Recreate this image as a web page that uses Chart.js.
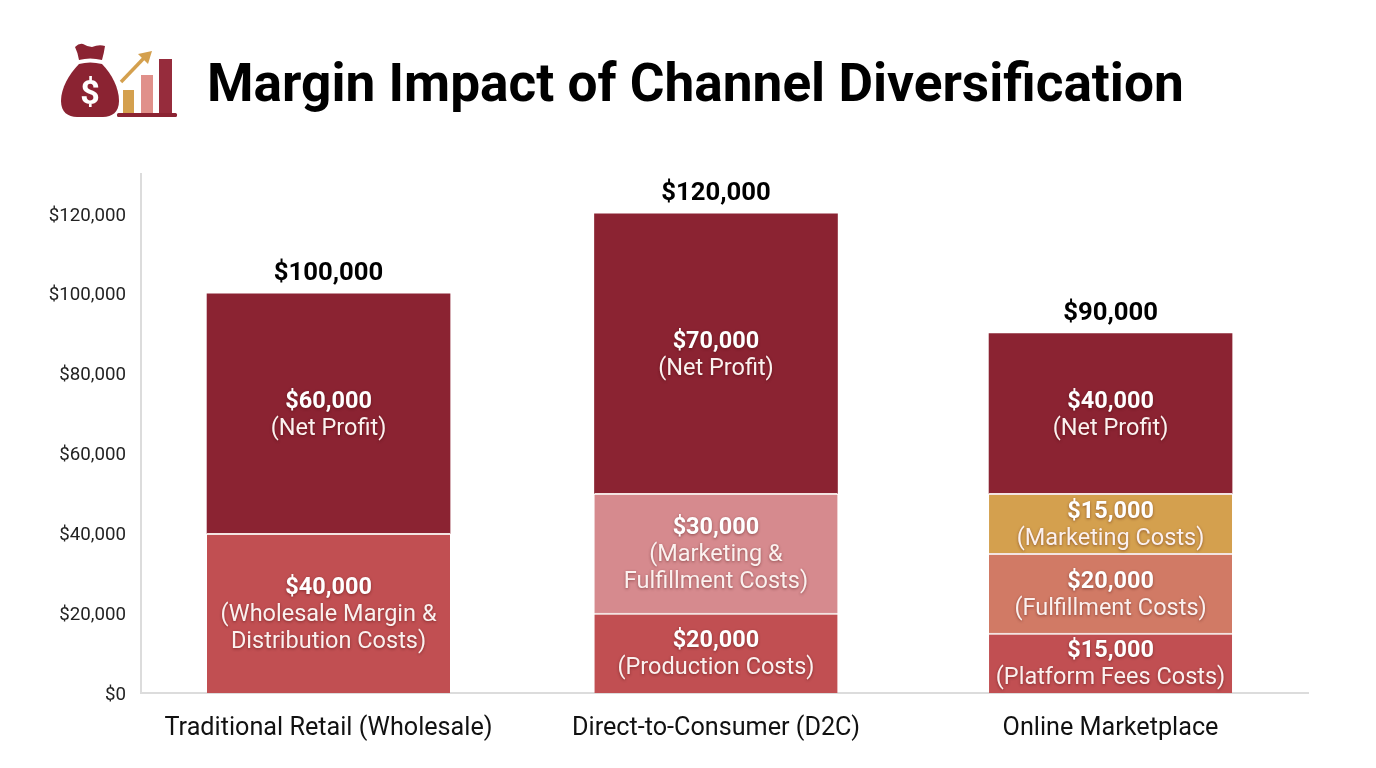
<!DOCTYPE html>
<html>
<head>
<meta charset="utf-8">
<title>Margin Impact of Channel Diversification</title>
<script src="https://cdn.jsdelivr.net/npm/chart.js@4/dist/chart.umd.js"></script>
<style>
  html, body { margin: 0; padding: 0; background: #fff; overflow: hidden; }
  #wrap { position: relative; width: 1376px; height: 768px; }
  #icon { position: absolute; left: 0; top: 0; }
  h1 {
    position: absolute; left: 207px; top: 51px; margin: 0;
    font: 700 53.2px Roboto, sans-serif; color: #000; white-space: nowrap; line-height: 64px;
  }
  #margin-chart { position: absolute; left: 0; top: 0; }
</style>
</head>
<body>
<div id="wrap">
  <canvas id="margin-chart" width="1376" height="768"></canvas>
  <svg id="icon" width="200" height="130" viewBox="0 0 200 130">
    <!-- money bag -->
    <path d="M75 47 Q79 43 83 44 Q88 47 92 47 Q99 44 105 46 Q104 53 102 60 Q90 57 79 60 Q78 53 75 47 Z" fill="#8b2332"/>
    <path d="M79 64 Q90 61 102 64 C112 74 119 88 119 101 C119 112 112 117 103 117 L77 117 C68 117 61 112 61 101 C61 88 69 74 79 64 Z" fill="#8b2332"/>
    <text x="90" y="104" text-anchor="middle" font-family="Roboto" font-weight="700" font-size="34" fill="#fff">$</text>
    <!-- small rising bars -->
    <rect x="123" y="90" width="11" height="24" fill="#d4a04e"/>
    <rect x="141" y="75" width="12" height="39" fill="#e0908a"/>
    <rect x="159" y="59" width="13" height="55" fill="#962c3c"/>
    <rect x="117" y="113" width="60" height="4" rx="1.5" fill="#8b2332"/>
    <!-- arrow -->
    <path d="M121 82 L144 58" stroke="#d4a04e" stroke-width="3.5" fill="none"/>
    <path d="M152 51 L138 54 L148 64 Z" fill="#d4a04e"/>
  </svg>
  <h1>Margin Impact of Channel Diversification</h1>
</div>

<script>
const channels = ["Traditional Retail (Wholesale)", "Direct-to-Consumer (D2C)", "Online Marketplace"];

// one array per cost type, bottom of the stack first
const wholesaleCosts   = [40000, null, null];
const productionCosts  = [null, 20000, null];
const platformFees     = [null, null, 15000];
const fulfillmentCosts = [null, null, 20000];
const mktgFulfillCosts = [null, 30000, null];
const marketingCosts   = [null, null, 15000];
const netProfit        = [60000, 70000, 40000];
const totals           = [100000, 120000, 90000];

const yTicks = [0, 20000, 40000, 60000, 80000, 100000, 120000];
const money = v => "$" + v.toLocaleString("en-US");

// bars are not quite evenly spaced, so the category axis gets its own slot centres
const slotCenters = [0.1607, 0.4927, 0.8308];

class ChannelScale extends Chart.CategoryScale {
  getPixelForValue(value) {
    const i = typeof value === "number" ? value : this.parse(value);
    return this.left + this.width * slotCenters[i];
  }
}
ChannelScale.id = "channel";
ChannelScale.defaults = Chart.CategoryScale.defaults;
Chart.register(ChannelScale);

function segment(label, data, color, note, topEdge = 2) {
  return {
    label, data, note,
    backgroundColor: color,
    borderColor: "#f3e4e2",
    borderWidth: { top: topEdge, left: 0, right: 0, bottom: 0 },
    borderSkipped: false,
    barThickness: 243,
    stack: "channel"
  };
}

// value and caption text inside the segments, totals above the stacks
const barLabels = {
  id: "barLabels",
  afterDatasetsDraw(chart) {
    const ctx = chart.ctx;
    ctx.save();
    ctx.textAlign = "center";
    ctx.textBaseline = "middle";
    chart.data.datasets.forEach((ds, d) => {
      chart.getDatasetMeta(d).data.forEach((bar, i) => {
        if (ds.data[i] == null) return;
        const lines = ds.note[i];
        const mid = (bar.y + bar.base) / 2;
        const top = mid - (lines.length * 27) / 2 + 2;
        ctx.shadowColor = "rgba(60,0,0,0.45)";
        ctx.shadowBlur = 3;
        ctx.shadowOffsetY = 1;
        ctx.fillStyle = "#fff";
        ctx.font = "700 23.5px Roboto";
        ctx.fillText(money(ds.data[i]), bar.x, top);
        ctx.font = "400 23.5px Roboto";
        ctx.fillStyle = "#fbf1ef";
        lines.forEach((line, l) => ctx.fillText(line, bar.x, top + 27 * (l + 1)));
      });
    });
    ctx.shadowColor = "transparent";
    ctx.fillStyle = "#000";
    ctx.font = "700 25.7px Roboto";
    const x = chart.scales.x, y = chart.scales.y;
    totals.forEach((t, i) => ctx.fillText(money(t), x.getPixelForValue(i), y.getPixelForValue(t) - 20));
    ctx.restore();
  }
};

new Chart(document.getElementById("margin-chart"), {
  type: "bar",
  data: {
    labels: channels,
    datasets: [
      segment("Wholesale Margin & Distribution Costs", wholesaleCosts, "#c14f52", [["(Wholesale Margin &", "Distribution Costs)"]]),
      segment("Production Costs", productionCosts, "#c14f52", [null, ["(Production Costs)"]]),
      segment("Platform Fees Costs", platformFees, "#c14f52", [null, null, ["(Platform Fees Costs)"]]),
      segment("Fulfillment Costs", fulfillmentCosts, "#d17a65", [null, null, ["(Fulfillment Costs)"]]),
      segment("Marketing & Fulfillment Costs", mktgFulfillCosts, "#d68a8e", [null, ["(Marketing &", "Fulfillment Costs)"]]),
      segment("Marketing Costs", marketingCosts, "#d4a04e", [null, null, ["(Marketing Costs)"]]),
      segment("Net Profit", netProfit, "#8b2332", [["(Net Profit)"], ["(Net Profit)"], ["(Net Profit)"]], 0)
    ]
  },
  options: {
    responsive: false,
    animation: false,
    layout: { padding: { top: 174, right: 68, left: 0, bottom: 0 } },
    plugins: { legend: { display: false }, tooltip: { enabled: false } },
    scales: {
      x: {
        type: "channel",
        stacked: true,
        offset: true,
        grid: { display: false, drawTicks: false },
        border: { color: "#dcdcdc", width: 2 },
        afterFit: s => { s.height = 75; },
        ticks: { color: "#111", font: { family: "Roboto", size: 25.2 }, padding: 21, maxRotation: 0, autoSkip: false }
      },
      y: {
        stacked: true,
        min: 0,
        max: 130000,
        grid: { display: false, drawTicks: false },
        border: { color: "#dcdcdc", width: 2 },
        afterFit: s => { s.width = 141; },
        afterBuildTicks: s => { s.ticks = yTicks.map(value => ({ value })); },
        ticks: { color: "#222", font: { family: "Roboto", size: 18.7 }, padding: 15, labelOffset: 2, callback: v => money(v) }
      }
    }
  },
  plugins: [barLabels]
});
</script>
</body>
</html>
